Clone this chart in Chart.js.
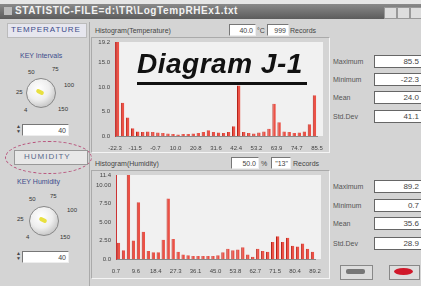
<!DOCTYPE html>
<html>
<head>
<meta charset="utf-8">
<script src="https://cdn.jsdelivr.net/npm/chart.js@4"></script>
<style>
body { margin: 0; width: 421px; height: 286px; overflow: hidden; position: relative; background: #d4d4d4; font-family: "Liberation Sans", Arial, sans-serif; color: #444; }
.abs { position: absolute; }
.lbl { position: absolute; font-size: 7px; white-space: nowrap; }
.box { position: absolute; background: #fff; border: 1px solid #777; border-right-color: #eee; border-bottom-color: #eee; font-size: 7px; text-align: right; padding-right: 2px; box-sizing: border-box; line-height: 11px; }
.stat { position: absolute; font-size: 7px; color: #555; }
.sbox { position: absolute; left: 374px; width: 52px; height: 13px; background: #fff; border: 1px solid #666; box-sizing: border-box; font-size: 8px; text-align: right; padding-right: 6px; line-height: 11px; color: #444; }
.knob { position: absolute; width: 28px; height: 28px; border-radius: 50%; background: radial-gradient(circle at 40% 35%, #fff 0%, #eee 45%, #aaa 100%); border: 1px solid #888; }
.knob i { position: absolute; left: 9px; top: 11px; width: 8px; height: 4px; background: #e8e040; border-radius: 2px; transform: rotate(25deg); }
.kt { position: absolute; font-size: 6px; color: #333; }
.panel { position: absolute; border: 1px solid #aaa; border-right-color: #f4f4f4; border-bottom-color: #f4f4f4; }
</style>
</head>
<body>
<div class="abs" style="left:0;top:0;width:421px;height:4px;background:#e6e6e6"></div>
<div class="abs" style="left:0;top:4px;width:421px;height:15px;background:linear-gradient(#8a8a8a,#5c5c5c)"></div>
<div class="abs" style="left:4px;top:7px;width:8px;height:8px;background:#bbb"></div>
<div class="lbl" style="left:15px;top:5px;font-size:10px;font-weight:bold;color:#f2f2f2;letter-spacing:0.6px">STATISTIC-FILE=d:\TR\LogTempRHEx1.txt</div>
<div class="abs" style="left:384px;top:7px;width:11px;height:10px;background:#ddd;border:1px solid #999"></div>
<div class="abs" style="left:397px;top:7px;width:11px;height:10px;background:#ddd;border:1px solid #999"></div>
<div class="abs" style="left:410px;top:7px;width:11px;height:10px;background:#ddd;border:1px solid #999"></div>

<!-- left panel -->
<div class="abs" style="left:7px;top:23px;width:78px;height:13px;background:#e6e6ee;border:1px solid #bbb"></div>
<div class="lbl" style="left:11px;top:25px;font-size:8px;color:#3d4c8c;letter-spacing:0.9px">TEMPERATURE</div>
<div class="abs" style="left:89px;top:22px;width:1px;height:264px;background:#aaa"></div>
<div class="lbl" style="left:20px;top:52px;color:#3d4c8c">KEY Intervals</div>
<div class="knob" style="left:26px;top:78px"><i></i></div>
<div class="kt" style="left:28px;top:69px">50</div>
<div class="kt" style="left:52px;top:66px">75</div>
<div class="kt" style="left:64px;top:82px">100</div>
<div class="kt" style="left:58px;top:106px">150</div>
<div class="kt" style="left:16px;top:89px">25</div>
<div class="kt" style="left:24px;top:107px">4</div>
<div class="lbl" style="left:16px;top:124px;font-size:5px;line-height:5px">▲<br>▼</div>
<div class="box" style="left:22px;top:124px;width:47px;height:12px">40</div>

<div class="abs" style="left:5px;top:141px;width:85px;height:31px;border:1px dashed #b8507a;border-radius:50%"></div>
<div class="abs" style="left:14px;top:150px;width:72px;height:13px;background:#e8e8e8;border:1px solid #999"></div>
<div class="lbl" style="left:24px;top:152px;font-size:8px;letter-spacing:1px;color:#5a6a8a">HUMIDITY</div>
<div class="lbl" style="left:17px;top:178px;color:#3d4c8c">KEY Humidity</div>
<div class="knob" style="left:29px;top:206px"><i></i></div>
<div class="kt" style="left:29px;top:196px">50</div>
<div class="kt" style="left:50px;top:193px">75</div>
<div class="kt" style="left:67px;top:207px">100</div>
<div class="kt" style="left:60px;top:234px">150</div>
<div class="kt" style="left:17px;top:216px">25</div>
<div class="kt" style="left:26px;top:234px">4</div>
<div class="lbl" style="left:16px;top:251px;font-size:5px;line-height:5px">▲<br>▼</div>
<div class="box" style="left:22px;top:251px;width:47px;height:12px">40</div>

<!-- top chart header -->
<div class="lbl" style="left:95px;top:27px">Histogram(Temperature)</div>
<div class="box" style="left:229px;top:24px;width:27px;height:12px">40.0</div>
<div class="lbl" style="left:257px;top:27px">°C</div>
<div class="box" style="left:267px;top:24px;width:22px;height:12px">999</div>
<div class="lbl" style="left:290px;top:27px">Records</div>
<div class="panel" style="left:91px;top:37px;width:237px;height:114px"></div>
<canvas id="tempChart" class="abs" style="left:92px;top:36px" width="236" height="114"></canvas>

<!-- bottom chart header -->
<div class="lbl" style="left:95px;top:160px">Histogram(Humidity)</div>
<div class="box" style="left:231px;top:157px;width:28px;height:12px">50.0</div>
<div class="lbl" style="left:261px;top:160px">%</div>
<div class="box" style="left:271px;top:157px;width:20px;height:12px">"13"</div>
<div class="lbl" style="left:293px;top:160px">Records</div>
<div class="panel" style="left:91px;top:170px;width:237px;height:107px"></div>
<canvas id="humChart" class="abs" style="left:92px;top:170px" width="236" height="108"></canvas>

<!-- stats -->
<div class="stat" style="left:333px;top:58px">Maximum</div>
<div class="sbox" style="top:55px">85.5</div>
<div class="stat" style="left:333px;top:76px">Minimum</div>
<div class="sbox" style="top:73px">-22.3</div>
<div class="stat" style="left:333px;top:94px">Mean</div>
<div class="sbox" style="top:91px">24.0</div>
<div class="stat" style="left:333px;top:113px">Std.Dev</div>
<div class="sbox" style="top:110px">41.1</div>

<div class="stat" style="left:333px;top:183px">Maximum</div>
<div class="sbox" style="top:180px">89.2</div>
<div class="stat" style="left:333px;top:202px">Minimum</div>
<div class="sbox" style="top:199px">0.7</div>
<div class="stat" style="left:333px;top:220px">Mean</div>
<div class="sbox" style="top:217px">35.6</div>
<div class="stat" style="left:333px;top:240px">Std.Dev</div>
<div class="sbox" style="top:237px">28.9</div>

<div class="abs" style="left:340px;top:265px;width:31px;height:13px;background:#ddd;border:1px solid #888"></div>
<div class="abs" style="left:346px;top:269px;width:19px;height:5px;background:#777;border-radius:2px"></div>
<div class="abs" style="left:389px;top:265px;width:29px;height:13px;background:#ddd;border:1px solid #888"></div>
<div class="abs" style="left:394px;top:268px;width:19px;height:7px;background:#d0182a;border-radius:50%"></div>

<!-- overlay caption -->
<div class="lbl" style="left:137px;top:48px;font-size:28px;font-weight:bold;font-style:italic;color:#111;letter-spacing:0.5px">Diagram J-1</div>
<div class="abs" style="left:137px;top:82px;width:170px;height:3px;background:#111"></div>

<script>
'use strict';

// histogram counts in %, 40 bins each
let tempValues = [19.2, 6.8, 3.8, 1.6, 0.9, 0.8, 0.9, 0.8, 0.7, 0.6,
    0.5, 0.4, 0.3, 0.4, 0.4, 0.5, 0.6, 0.8, 1.2, 0.8,
    0.7, 0.6, 0.8, 2.0, 10.3, 0.8, 0.6, 0.5, 0.7, 0.9,
    1.5, 6.6, 2.8, 0.9, 0.8, 0.6, 0.7, 0.9, 2.4, 8.3];
let tempXLabels = ['-22.3', '-11.5', '-0.7', '10.0', '20.8', '31.6', '42.4', '53.2', '63.9', '74.7', '85.5'];
let tempYLabels = ['0.0', '5.0', '10.0', '15.0', '19.2'];
let tempYTicks = [0, 5, 10, 15, 19.2];

let humValues = [2.2, 1.2, 11.4, 2.5, 7.7, 3.7, 1.1, 0.9, 0.9, 2.6,
    8.2, 2.7, 1.0, 0.6, 0.5, 0.4, 0.4, 0.4, 0.4, 0.4,
    0.5, 0.9, 1.4, 1.2, 1.3, 1.6, 0.6, 0.3, 1.4, 1.1,
    1.0, 2.3, 3.1, 2.3, 2.9, 1.8, 1.7, 2.1, 1.4, 1.0];
let humXLabels = ['0.7', '9.6', '18.4', '27.3', '36.1', '45.0', '53.8', '62.7', '71.5', '80.4', '89.2'];
let humYLabels = ['0.0', '2.50', '5.00', '7.50', '10.00', '11.4'];
let humYTicks = [0, 2.5, 5, 7.5, 10, 11.4];

Chart.defaults.font.family = '"Liberation Sans", Arial, sans-serif';
Chart.defaults.font.size = 6;
Chart.defaults.color = '#444';

let plotBack = {
    id: 'plotBack',
    beforeDraw(chart) {
        let a = chart.chartArea;
        let ctx = chart.ctx;
        ctx.save();
        ctx.fillStyle = '#f1f1f1';
        ctx.fillRect(a.left, a.top, a.right - a.left + 6, a.bottom - a.top);
        ctx.restore();
    }
};

function histogram(id, values, xLabels, yTicks, yLabels, pad, axisW, axisH) {
    let points = [];
    for (let i = 0; i < values.length; i++) {
        points.push({ x: i + 0.5, y: values[i] });
    }
    let ctx = document.getElementById(id).getContext('2d');
    return new Chart(ctx, {
        type: 'bar',
        data: {
            datasets: [{
                data: points,
                backgroundColor: '#ec5146',
                borderColor: '#b52218',
                borderWidth: { left: 1, right: 0, top: 0, bottom: 0 },
                barPercentage: 0.68,
                categoryPercentage: 1
            }]
        },
        options: {
            responsive: false,
            animation: false,
            layout: { padding: pad },
            plugins: { legend: { display: false }, tooltip: { enabled: false } },
            scales: {
                x: {
                    type: 'linear',
                    offset: false,
                    min: 0,
                    max: values.length,
                    grid: { display: false, drawTicks: true },
                    border: { color: '#888' },
                    afterBuildTicks(scale) {
                        scale.ticks = xLabels.map((l, i) => ({ value: i * 4 }));
                    },
                    afterFit(scale) { scale.height = axisH; },
                    ticks: {
                        autoSkip: false,
                        maxRotation: 0,
                        padding: 1,
                        callback: (v, i) => xLabels[i]
                    }
                },
                y: {
                    min: 0,
                    max: yTicks[yTicks.length - 1],
                    grid: { display: false, drawTicks: true, tickLength: 4 },
                    border: { color: '#c33' },
                    afterBuildTicks(scale) {
                        scale.ticks = yTicks.map(v => ({ value: v }));
                    },
                    afterFit(scale) { scale.width = axisW; },
                    ticks: {
                        autoSkip: false,
                        padding: 1,
                        callback: (v, i) => yLabels[i]
                    }
                }
            }
        },
        plugins: [plotBack]
    });
}

histogram('tempChart', tempValues, tempXLabels, tempYTicks, tempYLabels,
    { top: 6, right: 11, left: 0, bottom: 0 }, 23, 14);
histogram('humChart', humValues, humXLabels, humYTicks, humYLabels,
    { top: 5, right: 13, left: 0, bottom: 0 }, 24, 19);
</script>
</body>
</html>
